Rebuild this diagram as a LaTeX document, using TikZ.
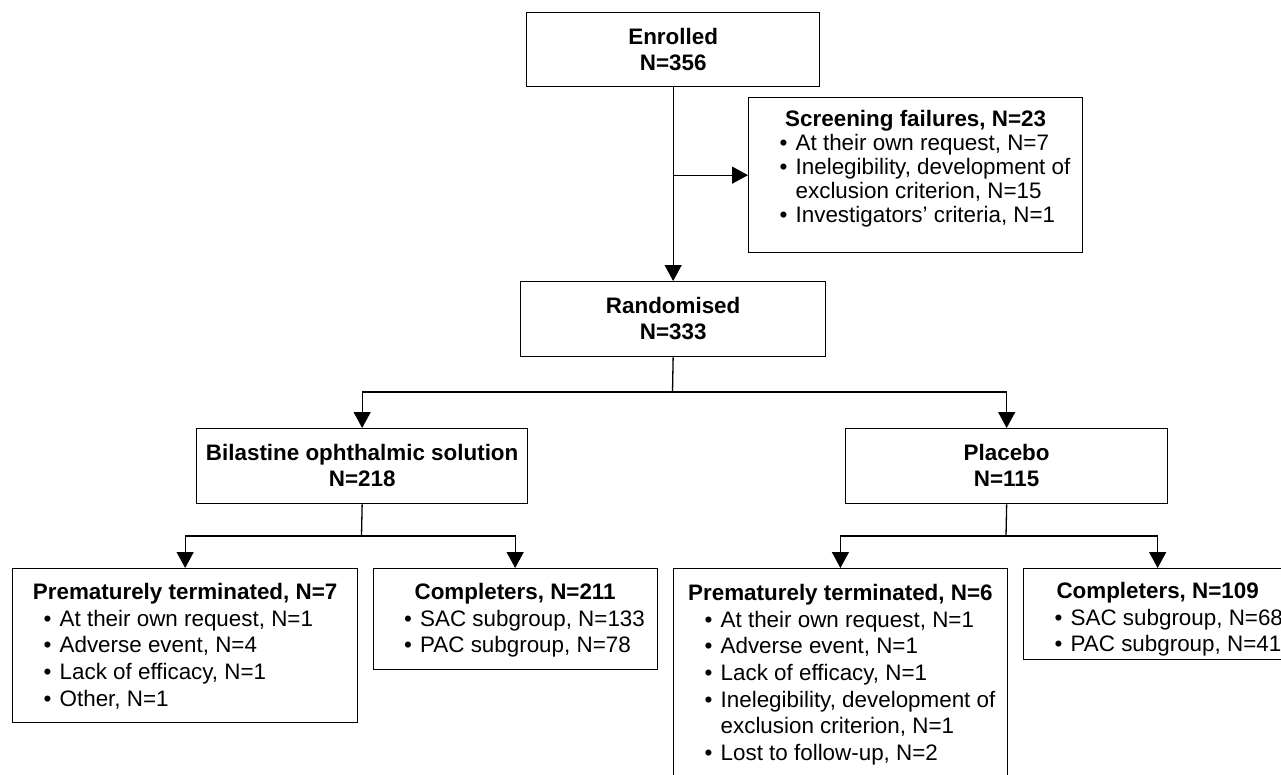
\documentclass[tikz,border=0pt]{standalone}
\usepackage{fontspec}
\setmainfont{Liberation Sans}
\usetikzlibrary{arrows.meta}
\newcommand\bli[1]{\par\leftskip=47pt\rightskip=0pt plus 1fil\parfillskip=0pt plus 1fil\noindent\hspace*{-16pt}\makebox[16pt][l]{\textbullet}#1}
\newcommand\btitle[2]{{\leftskip=0pt plus 1fil\rightskip=0pt plus 1fil\parfillskip=0pt\noindent\rule{0pt}{#1}\textbf{#2}\par}}
\newcommand\bx[4]{\parbox[c][#2][t]{#1}{\parskip=0pt\parindent=0pt #4\par\vss}}
\tikzset{
  box/.style={draw, line width=1.3pt, inner sep=0pt, anchor=north west,
    font=\fontsize{22.4}{26}\selectfont},
  lbox/.style={box, font=\fontsize{22.4}{26.6}\selectfont},
  sbox/.style={box, font=\fontsize{22.4}{24}\selectfont},
  arr/.style={line width=1.3pt, -{Triangle[length=16pt,width=17pt]}},
  ln/.style={line width=1.3pt}
}
\begin{document}
\begin{tikzpicture}[x=1pt,y=-1pt]
\useasboundingbox (0,0) rectangle (1281,774);
\fill[white] (0,0) rectangle (1281,774);
\clip (0,0) rectangle (1281,774);

\node[box] (enr) at (526,12)
  {\bx{293pt}{74pt}{}{\btitle{32pt}{Enrolled}\btitle{0pt}{N=356}}};
\node[sbox] (sf) at (748,97)
  {\bx{334pt}{155pt}{}{\btitle{29pt}{Screening failures, N=23}
   \bli{At their own request, N=7}
   \bli{Inelegibility, development of\newline exclusion criterion, N=15}
   \bli{Investigators’ criteria, N=1}}};
\node[box] (rnd) at (520,281)
  {\bx{305pt}{75pt}{}{\btitle{32pt}{Randomised}\btitle{0pt}{N=333}}};
\node[box] (bil) at (196,428)
  {\bx{331pt}{75pt}{}{\btitle{32pt}{Bilastine ophthalmic solution}\btitle{0pt}{N=218}}};
\node[box] (pla) at (845,428)
  {\bx{322pt}{75pt}{}{\btitle{32pt}{Placebo}\btitle{0pt}{N=115}}};

\node[lbox] (pt1) at (12,568)
  {\bx{345pt}{154pt}{}{\btitle{31pt}{Prematurely terminated, N=7}
   \bli{At their own request, N=1}
   \bli{Adverse event, N=4}
   \bli{Lack of efficacy, N=1}
   \bli{Other, N=1}}};
\node[lbox] (cp1) at (372.5,568)
  {\bx{284pt}{101pt}{}{\btitle{31pt}{Completers, N=211}
   \bli{SAC subgroup, N=133}
   \bli{PAC subgroup, N=78}}};
\node[lbox] (pt2) at (673,568)
  {\bx{333.5pt}{212pt}{}{\btitle{32pt}{Prematurely terminated, N=6}
   \bli{At their own request, N=1}
   \bli{Adverse event, N=1}
   \bli{Lack of efficacy, N=1}
   \bli{Inelegibility, development of\newline exclusion criterion, N=1}
   \bli{Lost to follow-up, N=2}}};
\node[lbox] (cp2) at (1023,568)
  {\bx{268pt}{91pt}{}{\btitle{30pt}{Completers, N=109}
   \bli{SAC subgroup, N=68}
   \bli{PAC subgroup, N=41}}};

\draw[arr] (enr.south) -- (rnd.north);
\draw[arr] (enr.south |- sf.west) -- (sf.west);

\coordinate (j1) at (672.5,392);
\draw[ln] (rnd.south) -- (j1);
\draw[arr] (j1) -| (bil.north);
\draw[arr] (j1) -| (pla.north);

\coordinate (j2) at (361.5,536);
\draw[ln] (bil.south) -- (j2);
\draw[arr] (j2) -| (pt1.north);
\draw[arr] (j2) -| (cp1.north);

\coordinate (j3) at (1006,536);
\draw[ln] (pla.south) -- (j3);
\draw[arr] (j3) -| (pt2.north);
\draw[arr] (j3) -| (cp2.north);
\end{tikzpicture}
\end{document}
